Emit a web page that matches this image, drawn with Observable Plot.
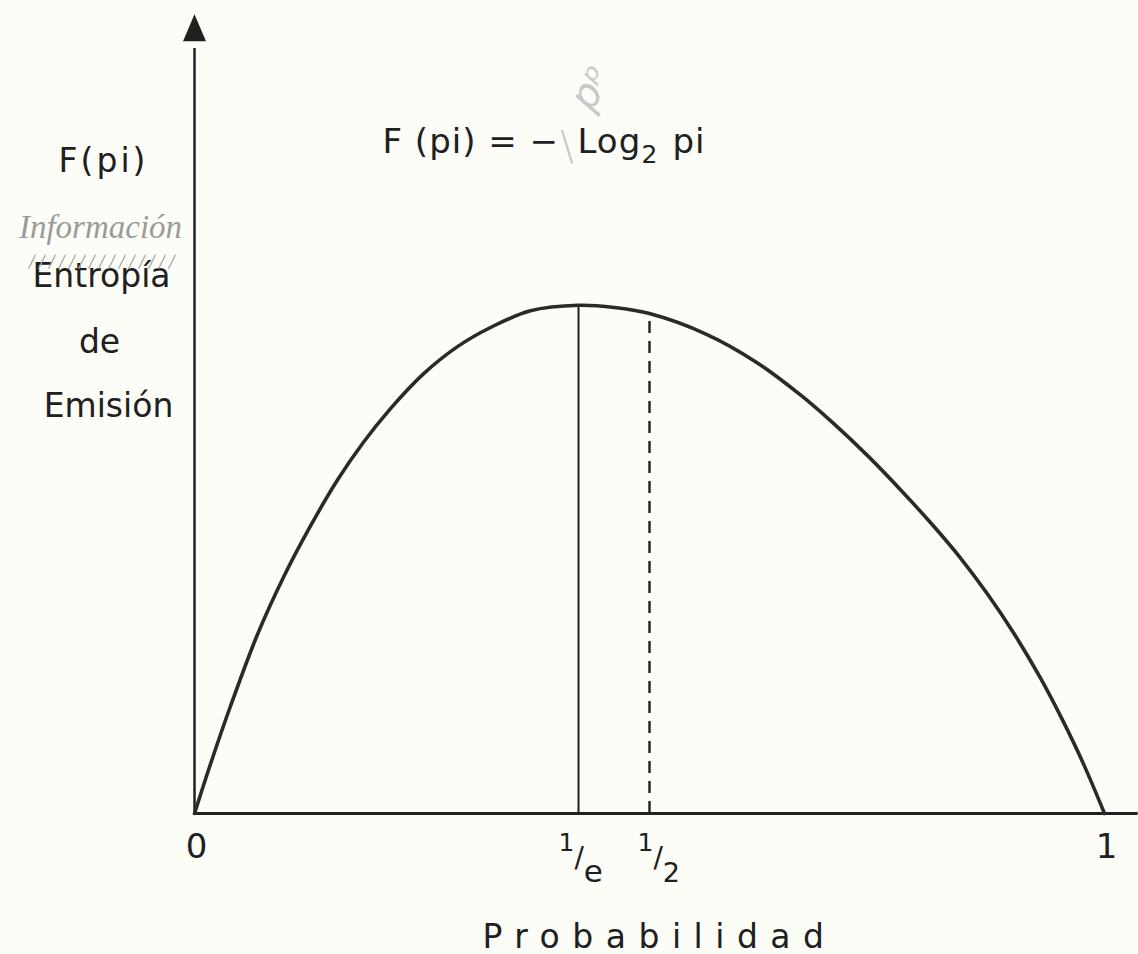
<!DOCTYPE html>
<html>
<head>
<meta charset="utf-8">
<script src="https://cdn.jsdelivr.net/npm/d3@7"></script>
<script src="https://cdn.jsdelivr.net/npm/@observablehq/plot@0.6"></script>
<style>
  html, body { margin: 0; padding: 0; background: #fdfdf7; }
  #chart svg { display: block; }
</style>
</head>
<body>
<div id="chart"></div>
<script>
// ---- data (probability p, emission entropy F) ----
const probability = [0, 0.0176, 0.0396, 0.0692, 0.0978, 0.1275, 0.1571, 0.1857, 0.2154, 0.2516, 0.289, 0.3253, 0.3692, 0.422, 0.4615, 0.4989, 0.5626, 0.6165, 0.6659, 0.7022, 0.7396, 0.7758, 0.8121, 0.8418, 0.8714, 0.9, 0.9297, 0.9549, 0.9769, 1];
const entropy     = [0, 0.0518, 0.1124, 0.1872, 0.2471, 0.3007, 0.3487, 0.3882, 0.4234, 0.4597, 0.4882, 0.5082, 0.5257, 0.5314, 0.5291, 0.5230, 0.5011, 0.4725, 0.4377, 0.4079, 0.3742, 0.3386, 0.3006, 0.2671, 0.2295, 0.1890, 0.1415, 0.0958, 0.0519, 0];

// tick labels
const wholeTickAt = [0, 1];
const wholeTickLabels = ["0", "1"];
const fractionAt = [0.422, 0.5];          // 1/e (where it is drawn) and 1/2
const fractionLabels = ["1/e", "1/2"];
const dashedTop = 0.518;                  // dashed line at 1/2 stops just under the curve
const axisTop = 0.8;                      // top of the vertical axis (arrow)
const xAxisEnd = 1.037;

// texts
const yTitle = ["F(pi)", "Entropía", "de", "Emisión"];
const handNote = "Información";
const formulaParts = ["F (pi) = −", "Log", "2", "pi"];
const xTitle = "Probabilidad";

const ink = "#202020";
const curveData = probability.map((p, i) => ({p, f: entropy[i]}));
const peak = d3.max(entropy);

const tallTriangle = {
  draw(context, size) {
    const u = Math.sqrt(size / Math.PI);
    context.moveTo(0, -2 * u);
    context.lineTo(1.15 * u, 0.7 * u);
    context.lineTo(-1.15 * u, 0.7 * u);
    context.closePath();
  }
};
// pencil hatching that crosses out the top of "Entropía"
const hatching = {
  draw(context) {
    for (let k = 0; k < 15; k++) {
      context.moveTo(-70 + k * 10, 7);
      context.lineTo(-63 + k * 10, -7);
    }
  }
};

const label = (t, x, y, o = {}) =>
  Plot.text([t], {x: () => x, y: () => y, text: d => d, lineAnchor: "bottom", fill: ink, fontSize: 33, ...o});

const plot = Plot.plot({
  width: 1138,
  height: 954,
  marginLeft: 194,
  marginRight: 34,
  marginTop: 25,
  marginBottom: 141,
  x: {domain: [0, 1], axis: null},
  y: {domain: [0, 0.824], axis: null},
  style: {background: "#fdfdf7", fontFamily: "DejaVu Sans", color: ink, overflow: "visible"},
  marks: [
    // axes
    Plot.ruleY([0], {x1: () => 0, x2: () => xAxisEnd, stroke: ink, strokeWidth: 3}),
    Plot.ruleX([0], {y1: () => 0, y2: () => axisTop, stroke: ink, strokeWidth: 2.5}),
    Plot.dot([0], {x: d => d, y: () => 0.8148, symbol: tallTriangle, r: 10, fill: ink, stroke: "none"}),
    // reference lines
    Plot.ruleX([fractionAt[0]], {y1: () => 0, y2: () => peak, stroke: ink, strokeWidth: 2}),
    Plot.ruleX([fractionAt[1]], {y1: () => 0, y2: () => dashedTop, stroke: ink, strokeWidth: 2.4, strokeDasharray: "12,8"}),
    // curve
    Plot.line(curveData, {x: "p", y: "f", curve: "catmull-rom", stroke: "#2a2a2a", strokeWidth: 3.6}),
    // tick labels
    Plot.text(wholeTickLabels, {x: (d, i) => wholeTickAt[i], y: () => 0, text: d => d, dx: 2, dy: 44, lineAnchor: "bottom", fontSize: 34, fill: ink}),
    Plot.text(fractionLabels, {x: (d, i) => fractionAt[i], y: () => 0, text: d => d, dx: -20, dy: 37, textAnchor: "start", lineAnchor: "bottom", fontSize: 25, fill: ink, ariaDescription: "frac"}),
    // x title
    label(xTitle, 0.5, 0, {dx: 10, dy: 134, ariaDescription: "xtitle"}),
    // y title
    label(yTitle[0], 0, 0.6705, {dx: -91, ariaDescription: "spaced3"}),
    label(handNote, 0, 0.6015, {dx: -94, fontFamily: "Liberation Serif", fontStyle: "italic", fontSize: 33, fill: "#9a9a9a"}),
    label(yTitle[1], 0, 0.5502, {dx: -93}),
    Plot.dot([0], {x: d => d, y: () => 0.577, dx: -96, symbol: hatching, r: 10, fill: "none", stroke: "#a8a8a8", strokeWidth: 1.3}),
    label(yTitle[2], 0, 0.4812, {dx: -95}),
    label(yTitle[3], 0, 0.4142, {dx: -86}),
    // formula
    label(formulaParts[0], 0.2066, 0.6904, {textAnchor: "start", fontSize: 34, ariaDescription: "spaced1"}),
    label("\\", 0.402, 0.683, {textAnchor: "start", fontSize: 40, fontWeight: 200, fill: "#c6c6c6"}),
    label("pᵖ", 0.448, 0.752, {fontSize: 40, fontWeight: 200, fontStyle: "italic", fill: "#c9c9c9", rotate: -60}),
    label(formulaParts[1], 0.4209, 0.6904, {textAnchor: "start", fontSize: 34, ariaDescription: "spaced1"}),
    label(formulaParts[2], 0.4912, 0.6799, {textAnchor: "start", fontSize: 25}),
    label(formulaParts[3], 0.5253, 0.6904, {textAnchor: "start", fontSize: 34, ariaDescription: "spaced1"})
  ]
});

// letter spacing of the hand-lettered texts
const spacing = {xtitle: "12.5px", spaced3: "3px", spaced1: "1px"};
for (const [k, v] of Object.entries(spacing)) {
  plot.querySelectorAll(`g[aria-description="${k}"] text`).forEach(t => t.style.letterSpacing = v);
}
// stepped fractions: numerator raised, denominator lowered
const fracLayout = [
  {startDx: 0, denSize: 31},
  {startDx: 8, denSize: 27}
];
plot.querySelectorAll(`g[aria-description="frac"] text`).forEach((t, i) => {
  const [num, den] = t.textContent.split("/");
  const L = fracLayout[i] || fracLayout[0];
  t.textContent = "";
  const ns = "http://www.w3.org/2000/svg";
  const add = (s, attrs) => {
    const ts = document.createElementNS(ns, "tspan");
    for (const [a, v] of Object.entries(attrs)) ts.setAttribute(a, v);
    ts.textContent = s;
    t.appendChild(ts);
  };
  add(num, {"font-size": 25, dx: L.startDx});
  add("/", {"font-size": 28, dy: 16});
  add(den, {"font-size": L.denSize, dy: 15});
});
document.getElementById("chart").appendChild(plot);
</script>
</body>
</html>
